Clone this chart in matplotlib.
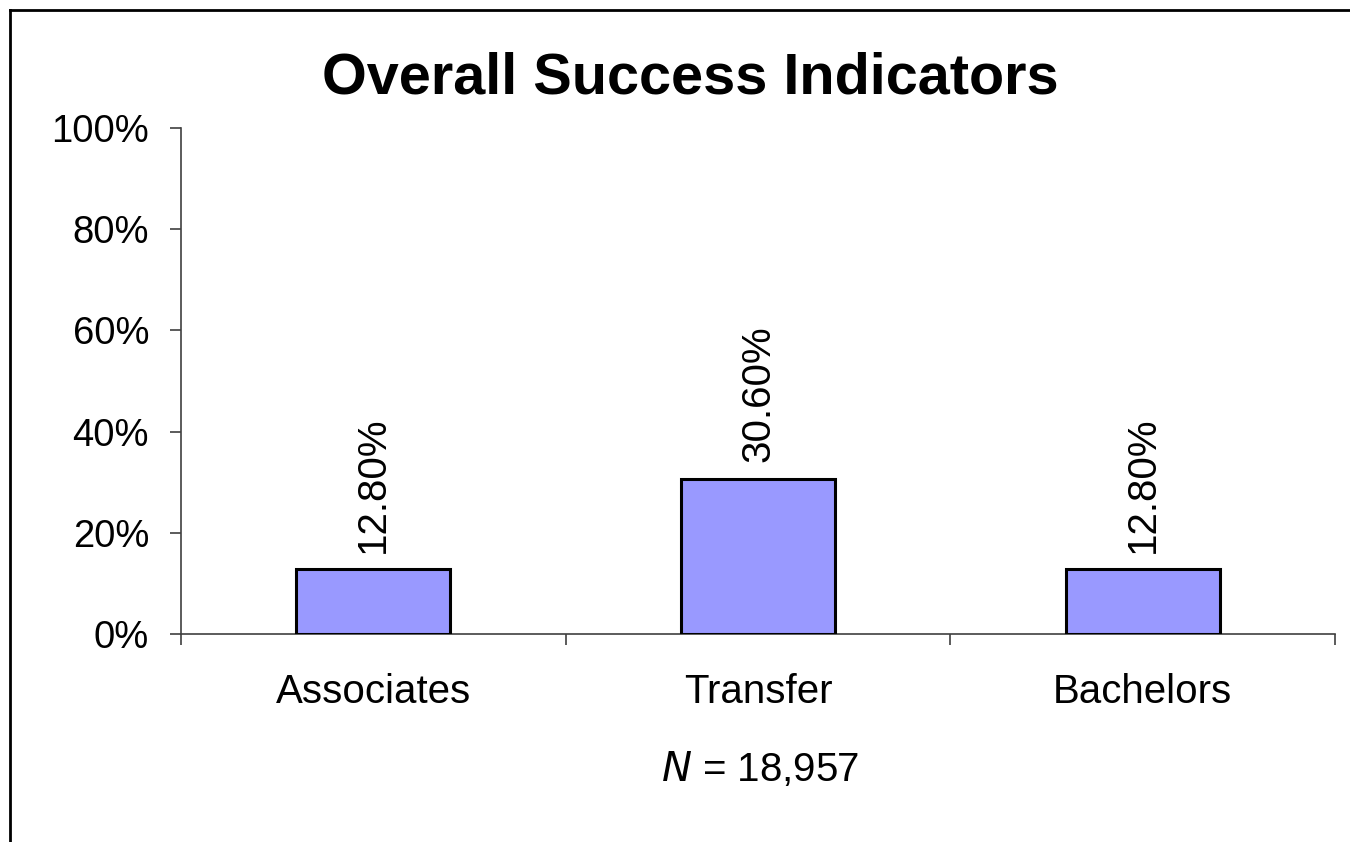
import matplotlib.pyplot as plt
from matplotlib.lines import Line2D
from matplotlib.ticker import FuncFormatter

plt.rcParams['font.family'] = ['Liberation Sans', 'DejaVu Sans']

categories = ['Associates', 'Transfer', 'Bachelors']
values = [12.8, 30.6, 12.8]
value_labels = ['12.80%', '30.60%', '12.80%']
y_ticks = [0, 20, 40, 60, 80, 100]

fig = plt.figure(figsize=(13.5, 8.42), dpi=100)
ax = fig.add_axes([181 / 1350, 1 - 634 / 842, (1335 - 181) / 1350, (634 - 128) / 842])

x = list(range(len(categories)))
ax.bar(x, values, width=0.40, color='#9999FF', edgecolor='black', linewidth=2.2, zorder=3)

for xi, v, lab in zip(x, values, value_labels):
    ax.annotate(lab, (xi, v), xytext=(0, 12), textcoords='offset points',
                rotation=90, ha='center', va='bottom', fontsize=29)

ax.set_xlim(-0.5, len(categories) - 0.5)
ax.set_ylim(0, 100)
ax.set_yticks(y_ticks)
ax.yaxis.set_major_formatter(FuncFormatter(lambda v, p: f'{int(v)}%'))
ax.tick_params(axis='y', labelsize=27.5, length=8, width=1.2, color='#404040', pad=15)

# category boundaries get the tick marks, labels sit in the middle
ax.set_xticks([i - 0.5 for i in range(len(categories) + 1)])
ax.set_xticklabels([])
ax.set_xticks(x, minor=True)
ax.set_xticklabels(categories, minor=True)
ax.tick_params(axis='x', which='major', length=8, width=1.2, color='#404040')
ax.tick_params(axis='x', which='minor', length=0, labelsize=29, pad=28)

for s in ['top', 'right']:
    ax.spines[s].set_visible(False)
for s in ['left', 'bottom']:
    ax.spines[s].set_color('#404040')
    ax.spines[s].set_linewidth(1.2)

fig.text(690 / 1350, 1 - 78 / 842, 'Overall Success Indicators', ha='center', va='center',
         fontsize=41.5, fontweight='bold')
fig.text(760 / 1350, 1 - 770 / 842, r'$\it{N}$ = 18,957', ha='center', va='center', fontsize=29)

# outer frame (left and top only visible)
fig.add_artist(Line2D([10 / 1350, 10 / 1350], [0, 1 - 10 / 842], transform=fig.transFigure,
                      color='black', linewidth=2))
fig.add_artist(Line2D([10 / 1350, 1], [1 - 10 / 842, 1 - 10 / 842], transform=fig.transFigure,
                      color='black', linewidth=2))

fig.savefig('out.png', dpi=100)
